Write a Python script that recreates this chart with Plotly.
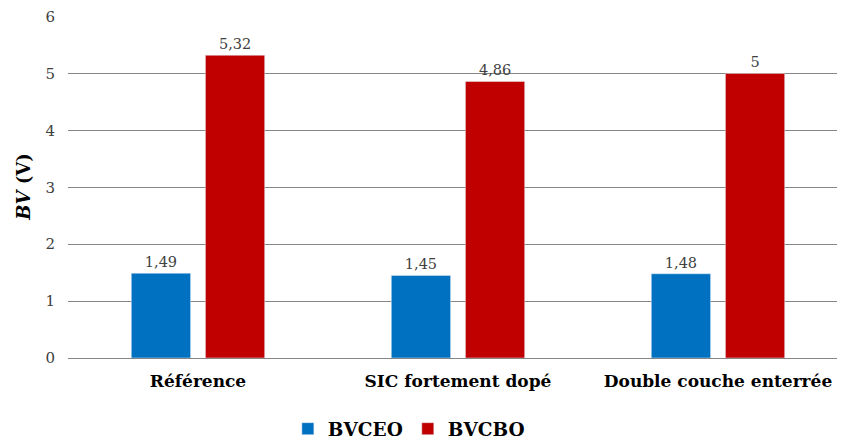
import plotly.graph_objects as go

categories = ['Référence', 'SIC fortement dopé', 'Double couche enterrée']
bvceo = [1.49, 1.45, 1.48]
bvcbo = [5.32, 4.86, 5]
labels_ceo = ['1,49', '1,45', '1,48']
labels_cbo = ['5,32', '4,86', '5']

serif = 'DejaVu Serif'

fig = go.Figure()
fig.add_trace(go.Bar(x=categories, y=bvceo, name='<b>BVCEO</b>', marker_color='#0070C0',
                     text=labels_ceo, textposition='outside', cliponaxis=False,
                     textfont=dict(family=serif, size=14.5, color='#404040')))
fig.add_trace(go.Bar(x=categories, y=bvcbo, name='<b>BVCBO</b>', marker_color='#C00000',
                     text=labels_cbo, textposition='outside', cliponaxis=False,
                     textfont=dict(family=serif, size=14.5, color='#404040')))

fig.add_annotation(text='<b><i>BV</i> (V)</b>', textangle=-90, xref='paper', yref='paper',
                   x=-0.058, y=0.5, xanchor='center', yanchor='middle', showarrow=False,
                   font=dict(family=serif, size=18, color='black'))

fig.update_layout(
    width=845, height=441,
    margin=dict(l=60, r=5, t=8, b=91),
    plot_bgcolor='white', paper_bgcolor='white',
    barmode='group', bargap=0.43, bargroupgap=0.2,
    font=dict(family=serif, color='#404040'),
    legend=dict(orientation='h', x=0.437, xanchor='center', yref='container', y=0.045, yanchor='middle',
                font=dict(family=serif, size=18.5, color='black'), itemwidth=30),
    yaxis=dict(range=[0, 6.01], tickvals=[0, 1, 2, 3, 4, 5, 6], showgrid=True, gridcolor='#868686',
               gridwidth=1, zeroline=False, showline=False, ticks='', ticklabelstandoff=12,
               automargin=False, ticklabeloverflow='allow',
               tickfont=dict(family=serif, size=15, color='#404040')),
    xaxis=dict(showline=True, linecolor='#868686', ticks='', automargin=False, ticklabelstandoff=8,
               tickfont=dict(family=serif, size=17, color='black'),
               tickvals=categories, ticktext=['<b>' + c + '</b>' for c in categories]),
)

fig.write_html('out.html')
